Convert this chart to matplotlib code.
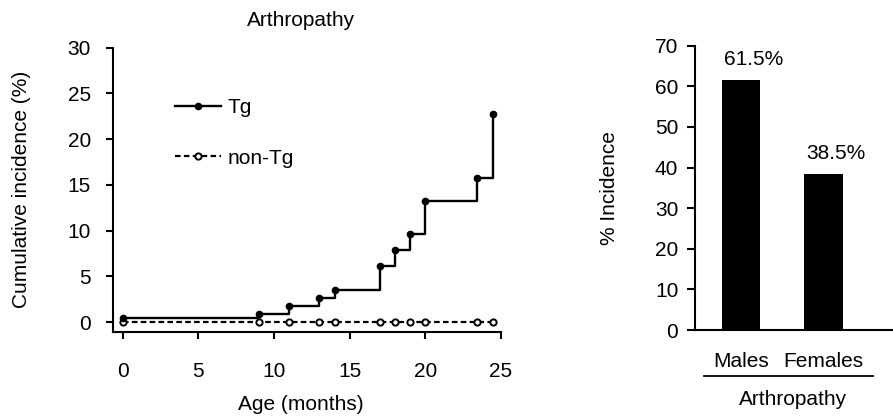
import matplotlib
matplotlib.use("Agg")
import matplotlib.pyplot as plt
from matplotlib.lines import Line2D

plt.rcParams['font.family'] = ['Liberation Sans', 'DejaVu Sans']
plt.rcParams['font.size'] = 15

# cumulative incidence (Kaplan-Meier style steps)
tg_months = [0, 9, 11, 13, 14, 17, 18, 19, 20, 23.4, 24.5]
tg_incidence = [0.4, 0.9, 1.8, 2.6, 3.5, 6.1, 7.9, 9.6, 13.2, 15.8, 22.8]
nontg_months = [0, 9, 11, 13, 14, 17, 18, 19, 20, 23.4, 24.5]
nontg_incidence = [0, 0, 0, 0, 0, 0, 0, 0, 0, 0, 0]

# incidence by sex
sexes = ['Males', 'Females']
sex_incidence = [61.5, 38.5]
sex_labels = ['61.5%', '38.5%']

W, H = 893, 417
fig = plt.figure(figsize=(W / 100, H / 100), dpi=100)


def px_axes(left, top, right, bottom):
    return fig.add_axes([left / W, 1 - bottom / H, (right - left) / W, (bottom - top) / H])


# left panel
ax1 = px_axes(113, 47.7, 501, 331.7)
ax1.plot(tg_months, tg_incidence, drawstyle='steps-post', color='black', lw=1.7,
         marker='o', ms=4.5, mfc='black', mec='black', label='Tg', clip_on=False)
ax1.plot(nontg_months, nontg_incidence, drawstyle='steps-post', color='black', lw=1.6,
         ls=(0, (2.5, 1.5)), marker='o', ms=4.5, mfc='white', mec='black', mew=1.4,
         label='non-Tg', clip_on=False, zorder=1)
ax1.set_xlim(-0.64, 25)
ax1.set_ylim(-1.06, 30)
ax1.set_xticks([0, 5, 10, 15, 20, 25])
ax1.set_yticks([0, 5, 10, 15, 20, 25, 30])
for side in ['top', 'right']:
    ax1.spines[side].set_visible(False)
for side in ['left', 'bottom']:
    ax1.spines[side].set_linewidth(1.5)
ax1.tick_params(axis='x', length=5, width=1.5, pad=17)
ax1.tick_params(axis='y', length=5, width=1.5, pad=11)
ax1.set_xlabel('Age (months)', va='center')
ax1.xaxis.set_label_coords(0.485, -0.258)
ax1.set_ylabel('Cumulative incidence (%)', va='center')
ax1.yaxis.set_label_coords(-0.237, 0.5)
ax1.set_title('Arthropathy', x=0.485, y=1.097, va='center', pad=0, fontsize=15)

ax1.legend(loc='upper left', bbox_to_anchor=(0.16, 0.822), frameon=False,
           borderpad=0, borderaxespad=0, handlelength=2.2, handletextpad=0.3,
           labelspacing=1.5, numpoints=1)

# right panel
ax2 = px_axes(695, 45.7, 893, 330)
x = range(len(sexes))
ax2.bar(x, sex_incidence, width=0.47, color='black')
for i, (v, lab) in enumerate(zip(sex_incidence, sex_labels)):
    ax2.text(i + 0.15, v + 5, lab, ha='center', va='center')
ax2.set_xlim(-0.556, 1.84)
ax2.set_ylim(0, 70)
ax2.set_yticks(range(0, 71, 10))
ax2.set_xticks(list(x))
ax2.set_xticklabels(sexes)
for side in ['top', 'right']:
    ax2.spines[side].set_visible(False)
for side in ['left', 'bottom']:
    ax2.spines[side].set_linewidth(1.5)
ax2.tick_params(axis='x', length=0, pad=16)
ax2.tick_params(axis='y', length=6, width=1.5, pad=6)
ax2.set_ylabel('% Incidence', va='center')
ax2.yaxis.set_label_coords(-0.43, 0.5)

ax2.add_line(Line2D([0.045, 0.897], [-0.161, -0.161], transform=ax2.transAxes,
                    color='black', lw=1.3, clip_on=False))
ax2.text(0.496, -0.246, 'Arthropathy', transform=ax2.transAxes, ha='center', va='center')

fig.savefig('out.png', dpi=100)
